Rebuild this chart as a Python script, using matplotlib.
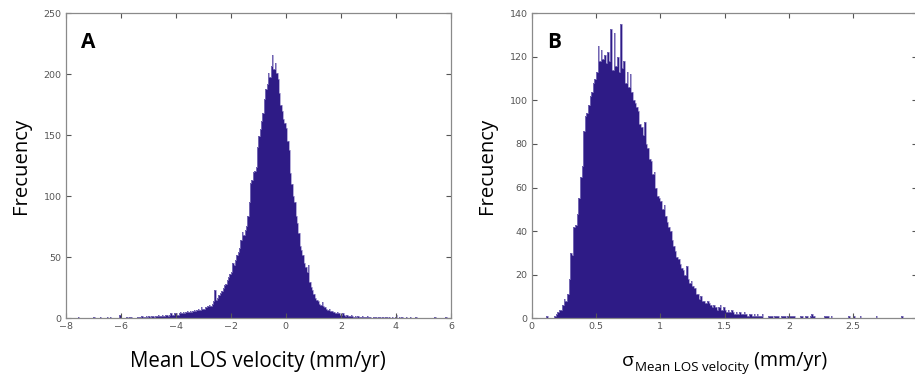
import numpy as np
import matplotlib.pyplot as plt

# Panel A: mean LOS velocity histogram (bins of 0.05 mm/yr starting at -8)
a_start = -8.0
a_width = 0.05
a_counts = [
    0, 0, 0, 0, 0, 0, 0, 0, 0, 1, 0, 0, 0, 0, 0, 0, 0, 0, 0, 0,
    1, 0, 0, 0, 0, 1, 0, 0, 0, 0, 1, 0, 1, 0, 0, 0, 0, 0, 0, 3,
    0, 0, 0, 0, 1, 0, 1, 1, 0, 0, 0, 0, 1, 1, 1, 2, 1, 1, 2, 1,
    2, 1, 2, 2, 1, 2, 2, 3, 2, 2, 3, 2, 3, 3, 2, 3, 4, 3, 3, 4,
    4, 3, 4, 5, 4, 5, 4, 5, 6, 5, 6, 5, 6, 7, 6, 7, 8, 7, 9, 8,
    8, 9, 9, 10, 11, 10, 12, 14, 23, 15, 17, 19, 21, 22, 25, 27, 28, 31, 34, 36,
    38, 45, 44, 48, 52, 54, 58, 64, 71, 68, 72, 76, 84, 95, 111, 113, 120, 121, 124, 140,
    149, 155, 162, 168, 180, 188, 192, 201, 198, 207, 216, 204, 209, 201, 196, 185, 175, 170, 163, 160,
    156, 145, 138, 119, 110, 100, 95, 84, 78, 70, 59, 56, 52, 45, 42, 38, 44, 30, 26, 23,
    20, 17, 15, 14, 12, 11, 13, 10, 9, 8, 7, 8, 6, 6, 5, 5, 4, 5, 4, 3,
    3, 4, 3, 2, 3, 2, 2, 3, 2, 1, 2, 1, 2, 1, 1, 2, 1, 1, 1, 2,
    1, 1, 0, 1, 1, 1, 0, 1, 1, 0, 1, 0, 1, 1, 0, 1, 0, 1, 0, 1,
    3, 0, 1, 0, 1, 0, 0, 1, 0, 0, 1, 0, 0, 0, 1, 0, 0, 0, 0, 0,
    0, 0, 0, 0, 0, 0, 0, 0, 1, 0, 0, 0, 0, 0, 0, 0, 1, 0, 0, 0,
]

# Panel B: sigma of mean LOS velocity (bins of 0.0125 mm/yr starting at 0.1)
b_start = 0.1
b_width = 0.0125
b_counts = [
    0, 1, 0, 0, 0, 0, 1, 2,
    3, 4, 4, 6, 9, 8, 11, 18,
    30, 29, 42, 43, 48, 55, 65, 70,
    86, 93, 94, 98, 102, 104, 108, 110,
    113, 125, 118, 123, 119, 121, 117, 122,
    118, 133, 114, 131, 116, 120, 113, 135,
    115, 118, 108, 113, 106, 112, 104, 100,
    99, 97, 95, 89, 88, 84, 90, 80,
    78, 73, 72, 66, 67, 60, 56, 55,
    54, 50, 52, 47, 44, 42, 40, 36,
    33, 31, 28, 27, 25, 23, 22, 20,
    24, 18, 16, 17, 15, 14, 11, 11,
    9, 10, 8, 8, 7, 8, 7, 6,
    5, 6, 5, 4, 5, 6, 4, 5,
    4, 3, 4, 3, 4, 3, 2, 3,
    2, 3, 2, 2, 3, 2, 1, 2,
    2, 1, 2, 1, 2, 1, 1, 2,
    0, 0, 0, 1, 1, 1, 0, 1,
    1, 1, 0, 1, 1, 1, 0, 1,
    1, 1, 1, 1, 0, 0, 0, 1,
    1, 0, 1, 1, 0, 1, 2, 1,
    0, 0, 0, 0, 0, 0, 1, 1,
    1, 0, 1, 0, 0, 0, 0, 0,
    0, 0, 0, 0, 0, 1, 0, 0,
    1, 0, 0, 0, 1, 0, 0, 0,
    0, 0, 0, 0, 0, 0, 1, 0,
    0, 0, 0, 0, 0, 0, 0, 0,
    0, 0, 0, 0, 0, 0, 1, 0,
]

a_xticks = [-8, -6, -4, -2, 0, 2, 4, 6]
a_yticks = [0, 50, 100, 150, 200, 250]
b_xticks = [0, 0.5, 1, 1.5, 2, 2.5, 3]
b_xticklabels = ['0', '0.5', '1', '1.5', '2', '2.5', '']   # "3" falls off the image
b_yticks = [0, 20, 40, 60, 80, 100, 120, 140]

fill = '#2e1b86'
edge = '#9186c6'
font = 'Open Sans'

fig = plt.figure(figsize=(9.15, 3.78), dpi=100)
axA = fig.add_axes([0.0718, 0.158, 0.4211, 0.8069])
axB = fig.add_axes([0.5811, 0.158, 0.4216, 0.8069])


def draw(ax, start, width, counts):
    counts = np.array(counts, dtype=float)
    edges = start + width * np.arange(len(counts) + 1)
    ax.stairs(counts, edges, fill=True, color=fill, linewidth=0)
    ax.stairs(counts, edges, color=edge, linewidth=0.5)
    for s in ax.spines.values():
        s.set_color('#8a8a8a')
        s.set_linewidth(0.9)
    ax.tick_params(direction='in', top=True, right=True, length=3.5,
                   width=0.8, color='#555555', labelsize=6.8,
                   labelcolor='#555555', pad=3)


draw(axA, a_start, a_width, a_counts)
axA.set_xlim(-8, 6)
axA.set_ylim(0, 250)
axA.set_xticks(a_xticks)
axA.set_yticks(a_yticks)
axA.set_ylabel('Frecuency', fontsize=14.6, family=font, labelpad=9)
axA.set_xlabel('Mean LOS velocity (mm/yr)', fontsize=14.8, family=font, labelpad=14)
axA.text(0.039, 0.905, 'A', transform=axA.transAxes, fontsize=15,
         fontweight='bold', family=font, va='center', ha='left')

draw(axB, b_start, b_width, b_counts)
axB.set_xlim(0, 3)
axB.set_ylim(0, 140)
axB.set_xticks(b_xticks)
axB.set_xticklabels(b_xticklabels)
axB.set_yticks(b_yticks)
axB.set_ylabel('Frecuency', fontsize=14.6, family=font, labelpad=9)
axB.text(0.04, 0.905, 'B', transform=axB.transAxes, fontsize=15,
         fontweight='bold', family=font, va='center', ha='left')

# x label of B built from pieces: sigma, subscript, unit
sig = fig.text(622 / 915, 1 - 366 / 378, 'σ', fontsize=14, family=font,
               ha='left', va='baseline')
sub = fig.text(0, 0, 'Mean LOS velocity', fontsize=9.6, family=font)
unit = fig.text(0, 0, ' (mm/yr)', fontsize=14.2, family=font)
fig.canvas.draw()
r = fig.canvas.get_renderer()
bb = sig.get_window_extent(r)
sub.set_position(((bb.x1 + 1) / fig.bbox.width, (378 - 371) / 378))
fig.canvas.draw()
bb2 = sub.get_window_extent(r)
unit.set_position((bb2.x1 / fig.bbox.width, 1 - 366 / 378))

fig.savefig('out.png', dpi=100)
